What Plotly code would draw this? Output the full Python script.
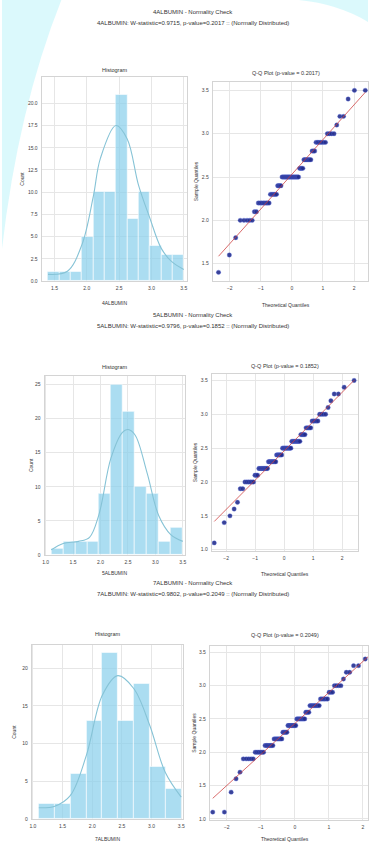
import numpy as np
import plotly.graph_objects as go
from statistics import NormalDist

W, H = 370, 847

# ---------------- data ----------------
names = ["4ALBUMIN", "5ALBUMIN", "7ALBUMIN"]
w_stats = ["0.9715", "0.9796", "0.9802"]
p_values = ["0.2017", "0.1852", "0.2049"]

# histogram bins / counts
hist1_edges = [1.4, 1.575, 1.75, 1.925, 2.1, 2.275, 2.45, 2.625, 2.8, 2.975, 3.15, 3.325, 3.5]
hist1_counts = [1, 1, 1, 5, 10, 10, 21, 7, 10, 4, 3, 3]
hist2_edges = [1.1, 1.318, 1.536, 1.755, 1.973, 2.191, 2.409, 2.627, 2.845, 3.064, 3.282, 3.5]
hist2_counts = [1, 2, 2, 2, 9, 25, 21, 10, 9, 2, 4]
hist3_edges = [1.1, 1.367, 1.633, 1.9, 2.167, 2.433, 2.7, 2.967, 3.233, 3.5]
hist3_counts = [2, 2, 6, 13, 22, 13, 18, 7, 4]

# KDE curves (count scale)
kde1_x = [1.4, 1.7, 1.925, 2.1, 2.21, 2.45, 2.625, 2.8, 2.975, 3.15, 3.31, 3.5]
kde1_y = [0.75, 1.1, 4.1, 9.5, 13.8, 17.5, 16.0, 10.8, 7.1, 3.7, 2.2, 1.3]
kde2_x = [1.1, 1.32, 1.6, 1.8, 1.97, 2.19, 2.4, 2.5, 2.63, 2.85, 3.06, 3.28, 3.5]
kde2_y = [0.75, 1.7, 2.0, 2.6, 5.9, 14.2, 18.0, 18.4, 17.6, 12.0, 5.8, 3.0, 2.0]
kde3_x = [1.1, 1.37, 1.63, 1.9, 2.17, 2.43, 2.7, 2.97, 3.23, 3.5]
kde3_y = [1.5, 1.7, 3.1, 8.4, 16.4, 19.0, 17.3, 12.4, 6.2, 2.9]

# sample values (distinct) and their frequencies
s1_vals = [1.4, 1.6, 1.8, 2.0, 2.1, 2.2, 2.3, 2.4, 2.5, 2.6, 2.7, 2.8, 2.9, 3.0, 3.1, 3.2, 3.4, 3.5]
s1_cnts = [1, 1, 1, 5, 2, 8, 6, 4, 17, 4, 7, 3, 7, 4, 1, 2, 1, 2]
s2_vals = [1.1, 1.4, 1.5, 1.6, 1.7, 1.9, 2.0, 2.1, 2.2, 2.3, 2.4, 2.5, 2.6, 2.7, 2.8, 2.9, 3.0, 3.1, 3.2, 3.3, 3.4, 3.5]
s2_cnts = [1, 1, 1, 1, 1, 2, 6, 3, 9, 9, 7, 11, 10, 5, 5, 5, 4, 1, 1, 2, 1, 1]
s3_vals = [1.1, 1.4, 1.6, 1.7, 1.9, 2.0, 2.1, 2.2, 2.3, 2.4, 2.5, 2.6, 2.7, 2.8, 2.9, 3.0, 3.1, 3.2, 3.3, 3.4, 3.5]
s3_cnts = [2, 1, 1, 1, 5, 6, 7, 8, 5, 9, 9, 4, 9, 6, 3, 4, 1, 2, 2, 1, 1]

hist_edges = [hist1_edges, hist2_edges, hist3_edges]
hist_counts = [hist1_counts, hist2_counts, hist3_counts]
kdes = [(kde1_x, kde1_y), (kde2_x, kde2_y), (kde3_x, kde3_y)]
samples = [(s1_vals, s1_cnts), (s2_vals, s2_cnts), (s3_vals, s3_cnts)]

# ---------------- layout geometry (pixels) ----------------
hist_box = [(40, 187, 77, 282), (43, 185, 377, 557), (30, 183, 647, 822)]
qq_box = [(213, 370, 82, 282), (212, 360, 375, 553), (210, 370, 648, 823)]
hist_xr = [[1.3, 3.55], [0.98, 3.54], [0.98, 3.53]]
hist_yr = [[0, 23.0], [0, 26.3], [0, 23.1]]
hist_ytick = [[0, 2.5, 5, 7.5, 10, 12.5, 15, 17.5, 20], [0, 5, 10, 15, 20, 25], [0, 5, 10, 15, 20]]
hist_yfmt = [".1f", "d", "d"]
qq_xr = [[-2.55, 2.45], [-2.5, 2.55], [-2.5, 2.15]]
qq_yr = [[1.3, 3.6], [0.98, 3.6], [0.98, 3.6]]
qq_ytick = [[1.5, 2.0, 2.5, 3.0, 3.5], [1.0, 1.5, 2.0, 2.5, 3.0, 3.5], [1.0, 1.5, 2.0, 2.5, 3.0, 3.5]]
title_y = [(12, 23), (316, 327), (585, 596)]
sub_title_y = [(70, 73), (368, 367), (636, 637)]
xlab_y = [(304, 306), (575, 576), (842, 842)]
ylab_x = [(20, 196), (30, 195), (12, 194)]

FONT = "Liberation Sans Narrow, Liberation Sans, Arial"
TXT = "#333333"
GRID = "#e6e6e6"
SPINE = "#d4d4d4"


def px_x(p):
    return p / W


def px_y(p):
    return 1 - p / H


def filliben(n):
    m = [(i - 0.3175) / (n + 0.365) for i in range(1, n + 1)]
    m[-1] = 0.5 ** (1.0 / n)
    m[0] = 1 - m[-1]
    nd = NormalDist()
    return np.array([nd.inv_cdf(v) for v in m])


fig = go.Figure()
layout = dict(
    width=W, height=H, autosize=False,
    margin=dict(l=0, r=0, t=0, b=0),
    paper_bgcolor="white", plot_bgcolor="white",
    showlegend=False,
    font=dict(family=FONT, size=6, color=TXT),
    bargap=0,
)
annotations = []


def ann(text, x, y, size=6, angle=0):
    annotations.append(dict(text=text, x=px_x(x), y=px_y(y), xref="paper", yref="paper",
                            showarrow=False, xanchor="center", yanchor="middle",
                            textangle=angle, font=dict(size=size, color=TXT, family=FONT)))


def axis_common():
    return dict(showgrid=True, gridcolor=GRID, gridwidth=0.6, zeroline=False,
                showline=True, linecolor=SPINE, linewidth=0.8, mirror=True,
                ticks="", ticklabelstandoff=2,
                tickfont=dict(size=5, color="#444444", family=FONT))


for b in range(3):
    hx = 2 * b + 1
    qx = 2 * b + 2
    edges = np.array(hist_edges[b])
    centers = (edges[:-1] + edges[1:]) / 2
    widths = edges[1:] - edges[:-1]
    fig.add_trace(go.Bar(x=centers, y=hist_counts[b], width=widths,
                         marker=dict(color="rgba(135,206,235,0.7)",
                                     line=dict(color="white", width=0.6)),
                         xaxis=f"x{hx}", yaxis=f"y{hx}", hoverinfo="skip"))
    kx, ky = kdes[b]
    fig.add_trace(go.Scatter(x=kx, y=ky, mode="lines",
                             line=dict(color="#86c3d6", width=1.1, shape="spline", smoothing=1.0),
                             xaxis=f"x{hx}", yaxis=f"y{hx}", hoverinfo="skip"))
    vals, cnts = samples[b]
    data = np.sort(np.repeat(vals, cnts))
    osm = filliben(len(data))
    slope, intercept = np.polyfit(osm, data, 1)
    fig.add_trace(go.Scatter(x=osm, y=data, mode="markers",
                             marker=dict(color="rgba(35,45,140,0.9)", size=4.4,
                                         line=dict(color="rgba(90,110,220,0.6)", width=0.6)),
                             xaxis=f"x{qx}", yaxis=f"y{qx}", hoverinfo="skip"))
    lx = np.array([osm.min(), osm.max()])
    fig.add_trace(go.Scatter(x=lx, y=slope * lx + intercept, mode="lines",
                             line=dict(color="rgba(205,60,60,0.85)", width=0.9),
                             xaxis=f"x{qx}", yaxis=f"y{qx}", hoverinfo="skip"))

    x0, x1, y0, y1 = hist_box[b]
    layout[f"xaxis{hx}"] = dict(domain=[px_x(x0), px_x(x1)], range=hist_xr[b], anchor=f"y{hx}",
                                tickvals=[1.0, 1.5, 2.0, 2.5, 3.0, 3.5], tickformat=".1f", **axis_common())
    layout[f"yaxis{hx}"] = dict(domain=[px_y(y1), px_y(y0)], range=hist_yr[b], anchor=f"x{hx}",
                                tickvals=hist_ytick[b], tickformat=hist_yfmt[b], **axis_common())
    x0, x1, y0, y1 = qq_box[b]
    layout[f"xaxis{qx}"] = dict(domain=[px_x(x0), px_x(x1)], range=qq_xr[b], anchor=f"y{qx}",
                                tickvals=[-2, -1, 0, 1, 2], **axis_common())
    layout[f"yaxis{qx}"] = dict(domain=[px_y(y1), px_y(y0)], range=qq_yr[b], anchor=f"x{qx}",
                                tickvals=qq_ytick[b], tickformat=".1f", **axis_common())

    t1, t2 = title_y[b]
    ann(f"{names[b]} - Normality Check", 193, t1, size=6)
    ann(f"{names[b]}: W-statistic={w_stats[b]}, p-value={p_values[b]} :: (Normally Distributed)", 193, t2, size=6)
    hb = hist_box[b]
    qb = qq_box[b]
    ann("Histogram", (hb[0] + hb[1]) / 2, sub_title_y[b][0], size=5.5)
    ann(f"Q-Q Plot (p-value = {p_values[b]})", (qb[0] + min(qb[1], 362)) / 2, sub_title_y[b][1], size=5.5)
    ann(names[b], (hb[0] + hb[1]) / 2, xlab_y[b][0], size=5)
    ann("Theoretical Quantiles", (qb[0] + min(qb[1], 362)) / 2, xlab_y[b][1], size=5)
    ann("Count", ylab_x[b][0], (hb[2] + hb[3]) / 2, size=5, angle=-90)
    ann("Sample Quantiles", ylab_x[b][1], (qb[2] + qb[3]) / 2, size=5, angle=-90)

layout["annotations"] = annotations

# faint cyan watermark swoosh in the background (top-left and top-right)
layout["shapes"] = [
    dict(type="path", xref="paper", yref="paper", layer="below",
         path=f"M 0 1 L {px_x(60)} 1 Q {px_x(16)} {px_y(110)} 0 {px_y(250)} Z",
         fillcolor="rgba(210,248,251,0.8)", line=dict(width=0)),
    dict(type="path", xref="paper", yref="paper", layer="below",
         path=f"M {px_x(300)} 1 L 1 1 L 1 {px_y(22)} Q {px_x(340)} {px_y(4)} {px_x(300)} 1 Z",
         fillcolor="rgba(210,248,251,0.8)", line=dict(width=0)),
]

fig.update_layout(**layout)
fig.write_html("out.html")
